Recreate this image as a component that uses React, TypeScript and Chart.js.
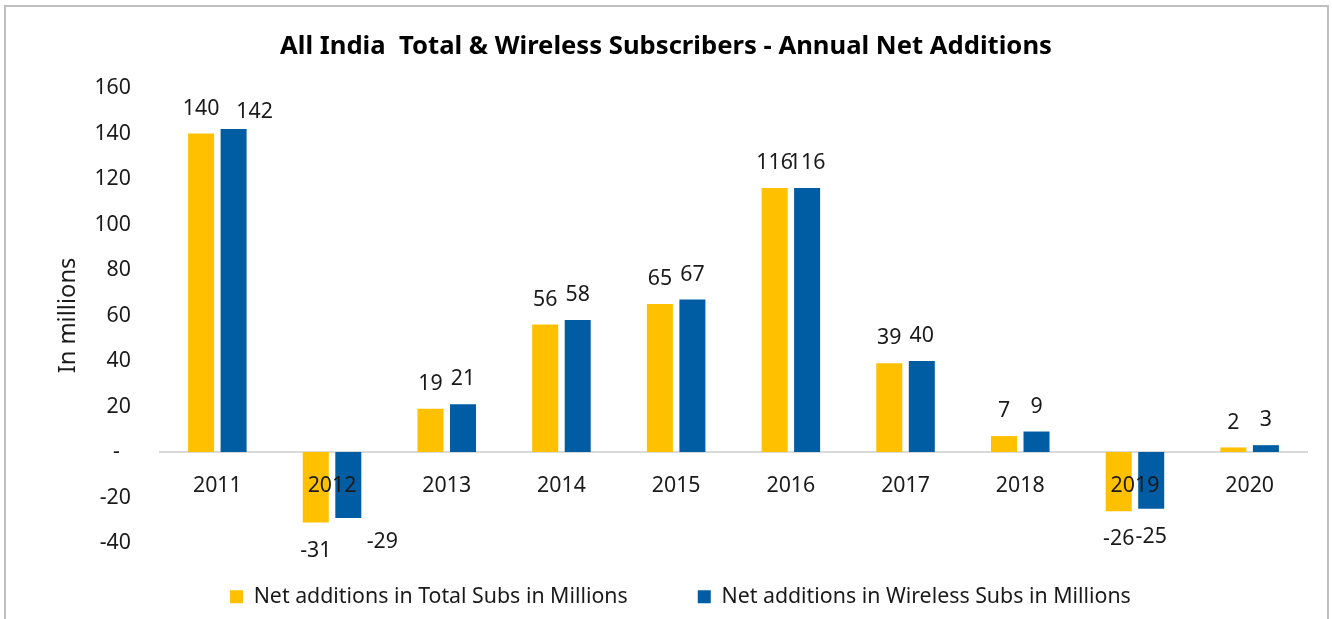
import React, { useEffect, useRef } from 'react';
import { Chart, registerables } from 'chart.js';

Chart.register(...registerables);

const chartTitle = 'All India  Total & Wireless Subscribers - Annual Net Additions';
const yAxisTitle = 'In millions';
const years = ['2011', '2012', '2013', '2014', '2015', '2016', '2017', '2018', '2019', '2020'];
const totalSubsLabel = 'Net additions in Total Subs in Millions';
const wirelessSubsLabel = 'Net additions in Wireless Subs in Millions';
const totalSubs = [140, -31, 19, 56, 65, 116, 39, 7, -26, 2];
const wirelessSubs = [142, -29, 21, 58, 67, 116, 40, 9, -25, 3];
const yMin = -40;
const yMax = 160;
const yStep = 20;

const FONT = '"Noto Sans", "Source Sans Pro", sans-serif';
const TEXT = '#1a1a1a';
const FS = 21.33;

// hand-placed label nudges in the source chart: "datasetIndex-index" -> [dx, dy]
const labelNudges: Record<string, [number, number]> = {
  '1-0': [21, 8],
  '1-1': [34, -4.5],
};

const valueLabels = {
  id: 'valueLabels',
  afterDatasetsDraw(chart: any) {
    const ctx = chart.ctx;
    ctx.save();
    ctx.font = `${FS}px ${FONT}`;
    ctx.fillStyle = TEXT;
    ctx.textAlign = 'center';
    ctx.textBaseline = 'middle';
    chart.data.datasets.forEach((ds: any, di: number) => {
      const meta = chart.getDatasetMeta(di);
      meta.data.forEach((bar: any, i: number) => {
        const v = ds.data[i] as number;
        const [dx, dy] = labelNudges[`${di}-${i}`] || [0, 0];
        const y = (v >= 0 ? bar.y - 25 : bar.y + 28) + dy;
        ctx.fillText(String(v), bar.x + dx, y);
      });
    });
    ctx.restore();
  },
};

export default function App() {
  const ref = useRef<HTMLCanvasElement>(null);

  useEffect(() => {
    if (!ref.current) return;
    const chart = new Chart(ref.current, {
      type: 'bar',
      data: {
        labels: years,
        datasets: [
          {
            label: totalSubsLabel,
            data: totalSubs,
            backgroundColor: '#FFC000',
            categoryPercentage: 0.567,
            barPercentage: 0.8,
          },
          {
            label: wirelessSubsLabel,
            data: wirelessSubs,
            backgroundColor: '#005DA4',
            categoryPercentage: 0.567,
            barPercentage: 0.8,
          },
        ],
      },
      options: {
        responsive: false,
        animation: false,
        devicePixelRatio: 1,
        layout: { padding: { left: 25, right: 25, top: 0, bottom: 1.67 } },
        plugins: {
          title: {
            display: true,
            text: chartTitle,
            color: '#000',
            font: { family: FONT, size: 25.65, weight: 'bold' },
            padding: { top: 31.6, bottom: 25.6 },
          },
          legend: {
            position: 'bottom',
            align: 'start',
            fullSize: false,
            title: {
              display: true,
              text: '',
              font: { size: 1, lineHeight: 0 },
              padding: { top: -27, bottom: 0 },
            },
            labels: {
              boxWidth: 13,
              boxHeight: 13,
              padding: 70,
              color: TEXT,
              font: { family: FONT, size: FS },
            },
          },
          tooltip: { enabled: false },
        },
        scales: {
          x: {
            position: { y: 0 } as any,
            grid: { display: false, drawTicks: false },
            border: { display: true, color: '#D9D9D9', width: 2 },
            ticks: { z: 1, color: TEXT, font: { family: FONT, size: FS }, padding: 21 },
          },
          y: {
            min: yMin,
            max: yMax,
            grid: { display: false, drawTicks: false },
            border: { display: false },
            ticks: {
              stepSize: yStep,
              color: TEXT,
              font: { family: FONT, size: FS },
              padding: 29,
              callback: (v: any) => (Number(v) === 0 ? '-  ' : String(v)),
            },
            title: {
              display: true,
              text: yAxisTitle,
              color: TEXT,
              font: { family: FONT, size: 23.7 },
              padding: { top: 28.8, bottom: 0 },
            },
            afterFit: (scale: any) => {
              scale.width = 135;
            },
          },
        },
      },
      plugins: [valueLabels],
    });
    return () => chart.destroy();
  }, []);

  return (
    <div style={{ position: 'fixed', left: 0, top: 0, width: 1332, height: 619, background: '#fff' }}>
      <canvas ref={ref} width={1332} height={619} style={{ display: 'block', width: 1332, height: 619 }} />
      <div
        style={{
          position: 'absolute',
          left: 4,
          top: 5,
          width: 1325,
          height: 614,
          border: '2px solid #BFBFBF',
          borderBottom: 'none',
          boxSizing: 'border-box',
          pointerEvents: 'none',
        }}
      />
    </div>
  );
}
